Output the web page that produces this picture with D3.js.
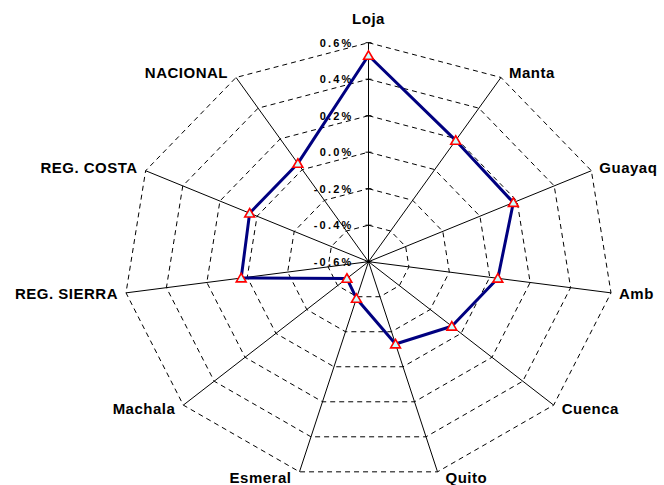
<!DOCTYPE html>
<html>
<head>
<meta charset="utf-8">
<script src="https://cdn.jsdelivr.net/npm/d3@7"></script>
<style>
  html, body { margin: 0; padding: 0; background: #fff; }
  svg { display: block; font-family: "Liberation Sans", Arial, sans-serif; }
</style>
</head>
<body>
<svg id="chart" width="664" height="485"></svg>
<script>
const categories = ["Loja", "Manta", "Guayaq", "Amb", "Cuenca", "Quito", "Esmeral", "Machala", "REG. SIERRA", "REG. COSTA", "NACIONAL"];
const values = [0.53, 0.19, 0.18, 0.04, -0.06, -0.13, -0.39, -0.46, 0.03, 0.04, 0.04];
const tickValues = [-0.6, -0.4, -0.2, 0.0, 0.2, 0.4, 0.6];
const tickLabels = ["-0.6%", "-0.4%", "-0.2%", "0.0%", "0.2%", "0.4%", "0.6%"];

const svg = d3.select("#chart");
const cx = 368.5, cy = 261.7, rx = 245, ry = 219;

const r = d3.scaleLinear().domain([-0.6, 0.6]).range([0, 1]);
const angle = d3.scaleLinear().domain([0, categories.length]).range([0, 2 * Math.PI]);

const px = (i, v) => cx + rx * r(v) * Math.sin(angle(i));
const py = (i, v) => cy - ry * r(v) * Math.cos(angle(i));

const idx = d3.range(categories.length);

// dashed rings
const rings = tickValues.filter(t => t > -0.6);
svg.append("g").selectAll("path").data(rings).join("path")
  .attr("d", t => d3.line()(idx.map(i => [px(i, t), py(i, t)])) + "Z")
  .attr("fill", "none").attr("stroke", "#000").attr("stroke-width", 1)
  .attr("stroke-dasharray", "5,4");

// spokes
svg.append("g").selectAll("line").data(idx).join("line")
  .attr("x1", cx).attr("y1", cy)
  .attr("x2", i => px(i, 0.6)).attr("y2", i => py(i, 0.6))
  .attr("stroke", "#000").attr("stroke-width", 1);

// tick marks on value axis (Loja)
svg.append("g").selectAll("line").data(tickValues).join("line")
  .attr("x1", cx - 3).attr("x2", cx + 3)
  .attr("y1", t => py(0, t)).attr("y2", t => py(0, t))
  .attr("stroke", "#000").attr("stroke-width", 1);

// tick labels
svg.append("g").selectAll("text").data(tickValues).join("text")
  .attr("x", cx - 15).attr("y", t => py(0, t))
  .attr("dy", "0.35em").attr("text-anchor", "end")
  .attr("font-size", 11).attr("font-weight", "bold")
  .attr("letter-spacing", "2.2px")
  .text((t, k) => tickLabels[k]);

// category labels
svg.append("g").selectAll("text").data(idx).join("text")
  .attr("x", i => {
    const s = Math.sin(angle(i)), ex = px(i, 0.6);
    if (Math.abs(s) < 0.1) return ex;
    return s > 0 ? ex + 8 : ex - 8;
  })
  .attr("y", i => {
    const c = Math.cos(angle(i)), ey = py(i, 0.6);
    if (i === 0) return ey - 24;
    return ey - 6 * c;
  })
  .attr("dy", "0.35em")
  .attr("text-anchor", i => {
    const s = Math.sin(angle(i));
    if (Math.abs(s) < 0.1) return "middle";
    return s > 0 ? "start" : "end";
  })
  .attr("font-size", 15).attr("font-weight", "bold")
  .attr("letter-spacing", "0.5px")
  .text(i => categories[i]);

// series line
svg.append("path")
  .attr("d", d3.line()(idx.map(i => [px(i, values[i]), py(i, values[i])])) + "Z")
  .attr("fill", "none").attr("stroke", "#000080").attr("stroke-width", 3)
  .attr("stroke-linejoin", "round");

// markers
const tri = d3.symbol().type(d3.symbolTriangle).size(42);
svg.append("g").selectAll("path").data(idx).join("path")
  .attr("transform", i => `translate(${px(i, values[i])},${py(i, values[i]) + 1})`)
  .attr("d", tri)
  .attr("fill", "#ccffff").attr("stroke", "#ff0000").attr("stroke-width", 1.6);
</script>
</body>
</html>
